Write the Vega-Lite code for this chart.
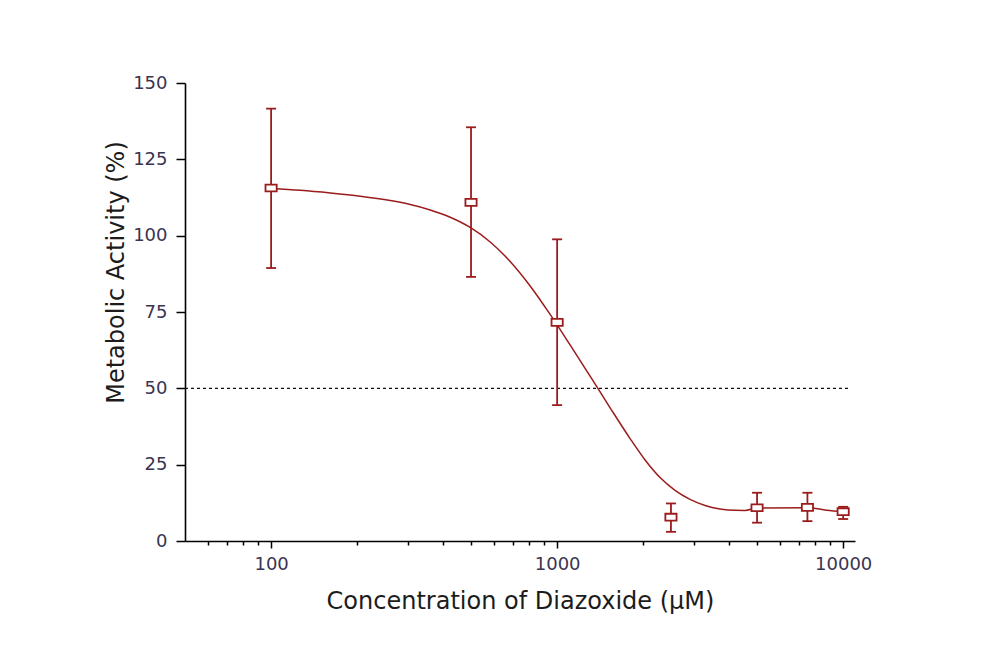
{
  "$schema": "https://vega.github.io/schema/vega-lite/v6.json",
  "width": 670,
  "height": 458,
  "autosize": "none",
  "padding": {"left": 185, "top": 83, "right": 134, "bottom": 106},
  "background": "white",
  "datasets": {
    "means": [
      {"conc": 100, "val": 115.6, "lo": 89.4, "hi": 141.6},
      {"conc": 500, "val": 110.9, "lo": 86.5, "hi": 135.5},
      {"conc": 1000, "val": 71.6, "lo": 44.5, "hi": 98.8},
      {"conc": 2500, "val": 7.8, "lo": 3.0, "hi": 12.3},
      {"conc": 5000, "val": 10.9, "lo": 6.0, "hi": 15.8},
      {"conc": 7500, "val": 11.0, "lo": 6.5, "hi": 15.8},
      {"conc": 10000, "val": 9.6, "lo": 7.2, "hi": 11.2}
    ],
    "fit": [
      {"conc": 100, "val": 115.45},
      {"conc": 126.5, "val": 114.86},
      {"conc": 161.1, "val": 113.99},
      {"conc": 205.0, "val": 112.93},
      {"conc": 261.0, "val": 111.49},
      {"conc": 306.6, "val": 110.18},
      {"conc": 359.9, "val": 108.41},
      {"conc": 422.9, "val": 106.02},
      {"conc": 496.7, "val": 102.68},
      {"conc": 583.4, "val": 97.94},
      {"conc": 685.1, "val": 91.55},
      {"conc": 804.8, "val": 83.53},
      {"conc": 945.2, "val": 74.21},
      {"conc": 1110, "val": 64.22},
      {"conc": 1304, "val": 53.98},
      {"conc": 1532, "val": 43.63},
      {"conc": 1799, "val": 33.55},
      {"conc": 2030, "val": 26.55},
      {"conc": 2290, "val": 20.79},
      {"conc": 2584, "val": 16.6},
      {"conc": 2915, "val": 13.65},
      {"conc": 3289, "val": 11.65},
      {"conc": 3710, "val": 10.51},
      {"conc": 4186, "val": 10.05},
      {"conc": 4536, "val": 10.02},
      {"conc": 5000, "val": 10.8},
      {"conc": 7500, "val": 10.9},
      {"conc": 8752, "val": 10.1},
      {"conc": 10000, "val": 9.6}
    ],
    "half": [
      {"conc": 50, "conc2": 10400, "val": 50}
    ]
  },
  "layer": [
    {
      "data": {"name": "half"},
      "mark": {"type": "rule", "color": "#111111", "strokeWidth": 1.2, "strokeDash": [3, 3]},
      "encoding": {
        "x": {
          "field": "conc",
          "type": "quantitative",
          "scale": {"type": "log", "domain": [50, 11000], "nice": false},
          "title": "Concentration of Diazoxide (µM)",
          "axis": {
            "values": [60, 70, 80, 90, 100, 200, 300, 400, 500, 600, 700, 800, 900, 1000, 2000, 3000, 4000, 5000, 6000, 7000, 8000, 9000, 10000],
            "labelExpr": "indexof([100, 1000, 10000], datum.value) >= 0 ? '' + datum.value : ''",
            "labelOverlap": false,
            "labelFlush": false,
            "tickSize": {"condition": {"test": "indexof([100, 1000, 10000], datum.value) >= 0", "value": 7}, "value": 4},
            "labelPadding": 7,
            "titleY": 67,
            "titleBaseline": "alphabetic"
          }
        },
        "x2": {"field": "conc2"},
        "y": {
          "field": "val",
          "type": "quantitative",
          "scale": {"domain": [0, 150], "nice": false},
          "title": "Metabolic Activity (%)",
          "axis": {
            "values": [0, 12.5, 25, 37.5, 50, 62.5, 75, 87.5, 100, 112.5, 125, 137.5, 150],
            "labelExpr": "datum.value % 25 == 0 ? '' + datum.value : ''",
            "labelOverlap": false,
            "labelFlush": false,
            "tickSize": {"condition": {"test": "datum.value % 25 == 0", "value": 9}, "value": 4},
            "labelPadding": 9,
            "titleX": -62,
            "titleY": 189,
            "titleBaseline": "alphabetic"
          }
        }
      }
    },
    {
      "data": {"name": "fit"},
      "mark": {"type": "line", "color": "#9b1c1c", "strokeWidth": 1.5, "interpolate": "monotone"},
      "encoding": {
        "x": {"field": "conc", "type": "quantitative"},
        "y": {"field": "val", "type": "quantitative"}
      }
    },
    {
      "data": {"name": "means"},
      "mark": {"type": "rule", "color": "#9b1c1c", "strokeWidth": 1.8},
      "encoding": {
        "x": {"field": "conc", "type": "quantitative"},
        "y": {"field": "lo", "type": "quantitative"},
        "y2": {"field": "hi"}
      }
    },
    {
      "data": {"name": "means"},
      "mark": {"type": "tick", "orient": "horizontal", "color": "#9b1c1c", "size": 10, "thickness": 1.8, "opacity": 1},
      "encoding": {
        "x": {"field": "conc", "type": "quantitative"},
        "y": {"field": "hi", "type": "quantitative"}
      }
    },
    {
      "data": {"name": "means"},
      "mark": {"type": "tick", "orient": "horizontal", "color": "#9b1c1c", "size": 10, "thickness": 1.8, "opacity": 1},
      "encoding": {
        "x": {"field": "conc", "type": "quantitative"},
        "y": {"field": "lo", "type": "quantitative"}
      }
    },
    {
      "data": {"name": "means"},
      "mark": {
        "type": "point",
        "shape": "M-1.4,-0.86H1.4V0.86H-1.4Z",
        "size": 64,
        "filled": true,
        "fill": "white",
        "stroke": "#9b1c1c",
        "strokeWidth": 1.8,
        "opacity": 1
      },
      "encoding": {
        "x": {"field": "conc", "type": "quantitative"},
        "y": {"field": "val", "type": "quantitative"}
      }
    }
  ],
  "config": {
    "view": {"stroke": null},
    "axis": {
      "grid": false,
      "domainColor": "#000000",
      "domainWidth": 1.6,
      "tickColor": "#000000",
      "tickWidth": 1.5,
      "labelFont": "DejaVu Sans",
      "labelFontSize": 18,
      "labelColor": "#3a3450",
      "titleFont": "DejaVu Sans",
      "titleFontSize": 24,
      "titleFontWeight": "normal",
      "titleColor": "#1c1c1c"
    }
  }
}
